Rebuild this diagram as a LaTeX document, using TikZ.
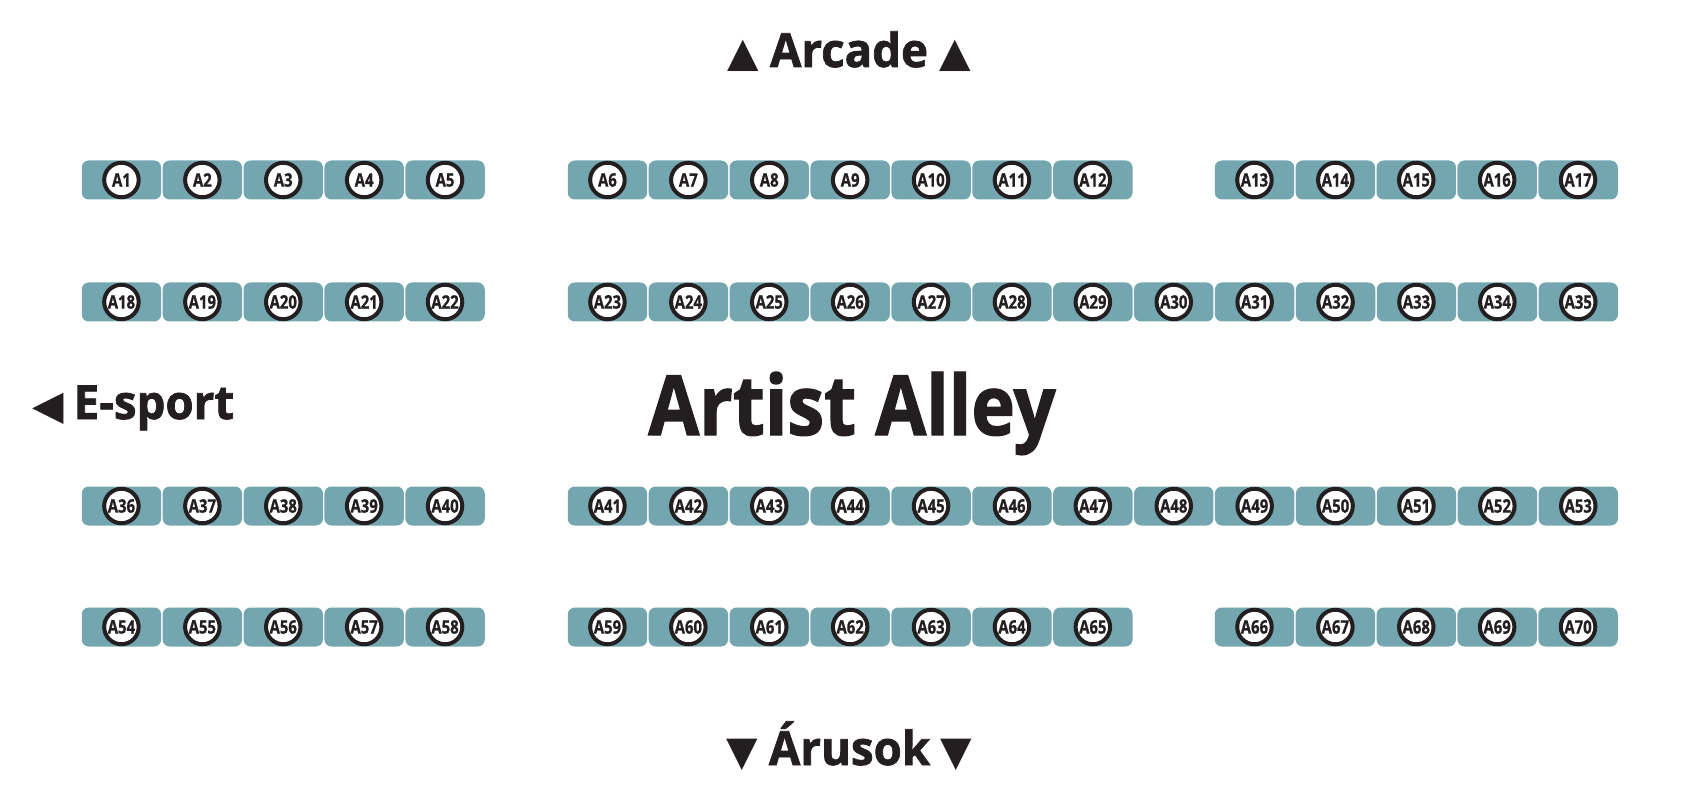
\documentclass[tikz,border=0pt]{standalone}
\usepackage{fontspec}
\newfontfamily\titlefont{Open Sans}[FakeStretch=0.89,FakeBold=1.5]
\newfontfamily\headfont{Open Sans}[FakeStretch=0.97,FakeBold=1.5]
\newfontfamily\boothfont{Open Sans}[FakeStretch=0.8,FakeBold=1]
\newfontfamily\symfont{DejaVu Sans}
\definecolor{booth}{HTML}{74A6B0}
\definecolor{ink}{HTML}{231F20}
\tikzset{
  stall/.style={rectangle, rounded corners=7pt, fill=booth, minimum width=79.4pt, minimum height=39pt, inner sep=0pt},
  num/.style={circle, draw=ink, line width=4pt, fill=white, minimum size=34.5pt, inner sep=0pt,
    font=\boothfont\bfseries\fontsize{18.6}{18.6}\selectfont, text=ink},
  head/.style={font=\headfont\bfseries\fontsize{47}{47}\selectfont, text=ink, inner sep=0pt},
  title/.style={font=\titlefont\bfseries\fontsize{83}{83}\selectfont, text=ink, inner sep=0pt}
}
\newcommand\tri[1]{{\symfont\fontsize{41}{41}\selectfont #1}}
\newcommand\stallrow[4]{%
  \foreach \n [count=\i from 0] in {#3,...,#4} {
    \node[stall] (b\n) at ({#1+40.45+80.9*\i},#2) {};
    \node[num] (A\n) at (b\n) {A\n};
  }}
\begin{document}
\begin{tikzpicture}[x=1pt,y=-1pt]
\fill[white] (0,0) rectangle (1700,810);
\useasboundingbox (0,0) rectangle (1700,810);
% row 1
\stallrow{81}{180}{1}{5}
\stallrow{567}{180}{6}{12}
\stallrow{1214}{180}{13}{17}
% row 2
\stallrow{81}{302}{18}{22}
\stallrow{567}{302}{23}{35}
% row 3
\stallrow{81}{506}{36}{40}
\stallrow{567}{506}{41}{53}
% row 4
\stallrow{81}{627}{54}{58}
\stallrow{567}{627}{59}{65}
\stallrow{1214}{627}{66}{70}
% labels
\node[head, anchor=base] (arcade) at (849,67) {\tri{▲}\hspace{11pt}Arcade\hspace{11pt}\tri{▲}};
\node[head, anchor=base] (arusok) at (849,765) {\tri{▼}\hspace{11pt}Árusok\hspace{10pt}\tri{▼}};
\node[head, anchor=base west] (esport) at (32,419) {\tri{◀}\hspace{10pt}E-sport};
\node[title, anchor=base] (alley) at (852,435) {Artist Alley};
\end{tikzpicture}
\end{document}
